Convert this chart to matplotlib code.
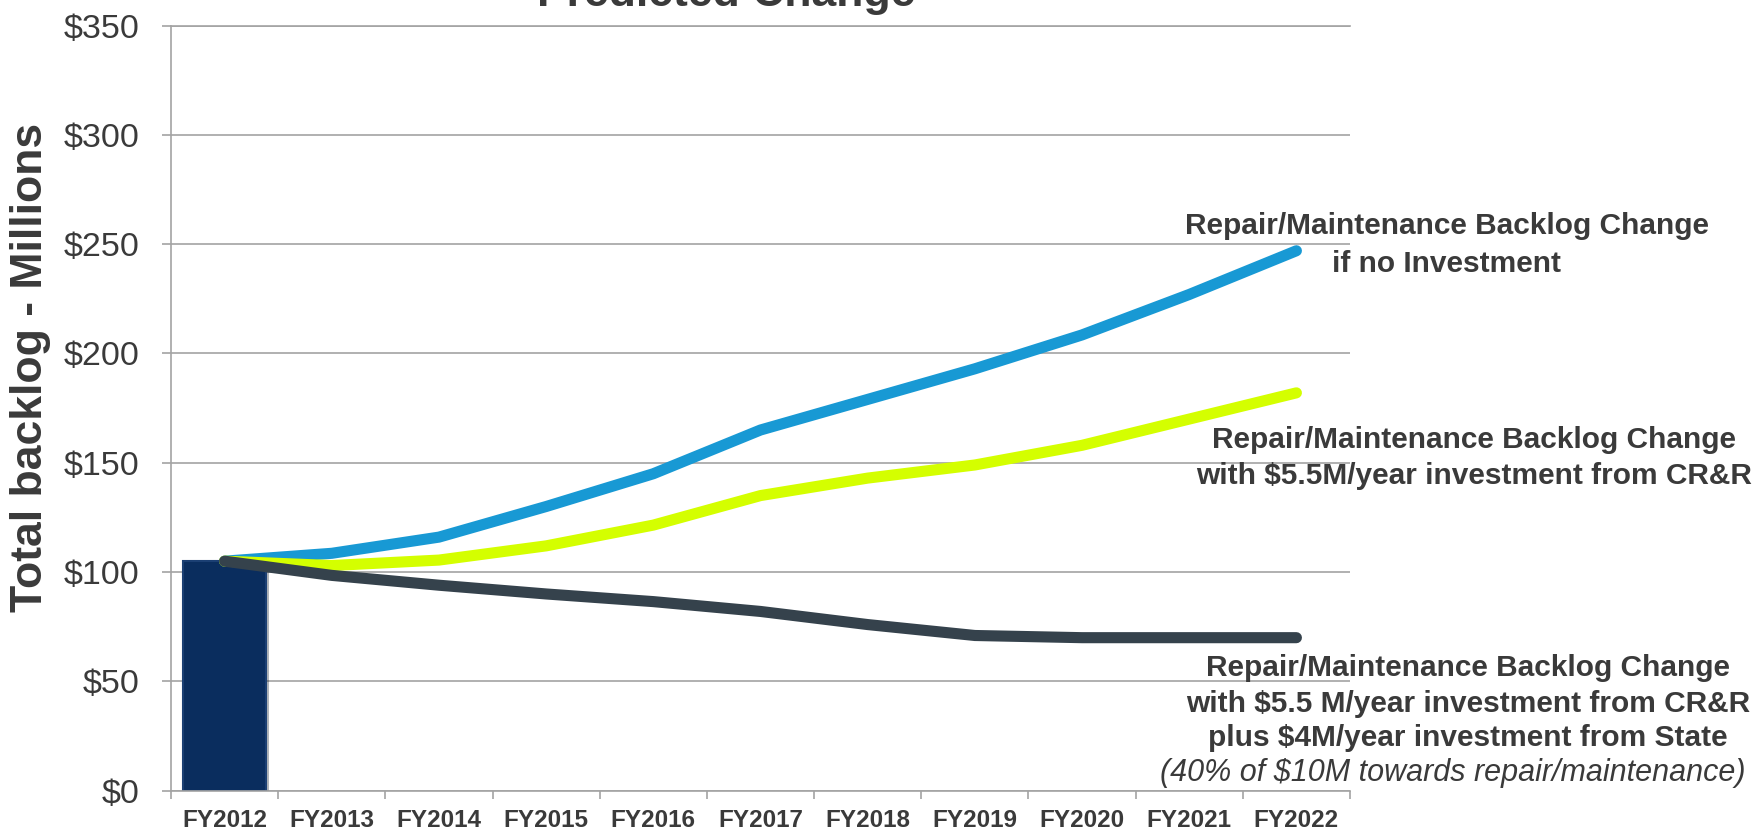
import numpy as np
import matplotlib
matplotlib.use('Agg')
import matplotlib.pyplot as plt
import matplotlib.patheffects as pe

plt.rcParams['font.family'] = ['Liberation Sans', 'DejaVu Sans']

years = ['FY2012', 'FY2013', 'FY2014', 'FY2015', 'FY2016', 'FY2017',
         'FY2018', 'FY2019', 'FY2020', 'FY2021', 'FY2022']
base_backlog = 105
no_investment = [105, 108.6, 116, 130, 145, 165, 179, 193, 208.5, 227, 247]
crr_only = [105, 103, 105.5, 112, 121.5, 135, 143, 149, 158, 170, 182]
crr_plus_state = [105, 98.5, 94, 90, 86.5, 82, 76, 71, 70, 70, 70]
y_ticks = [0, 50, 100, 150, 200, 250, 300, 350]

W, H = 1757, 831
fig = plt.figure(figsize=(W / 100, H / 100), dpi=100)
ax = fig.add_axes([171 / W, 1 - 790.7 / H, (1350 - 171) / W, (790.7 - 25.6) / H])

grid_c = '#a3a3a3'
text_c = '#3a3a3a'
x = np.arange(len(years))

# starting backlog bar
ax.bar(x[0], base_backlog, width=0.78, color='#0a2d5e', edgecolor='#1b3f73',
       linewidth=1.5, zorder=2,
       path_effects=[pe.SimplePatchShadow(offset=(2, -3), alpha=0.3), pe.Normal()])

line_kw = dict(lw=8, solid_capstyle='round', solid_joinstyle='round')
ax.plot(x, no_investment, color='#1899d4', zorder=3, **line_kw)
ax.plot(x, crr_only, color='#d4ff00', zorder=4, **line_kw)
ax.plot(x, crr_plus_state, color='#35424c', zorder=5, **line_kw)

ax.set_xlim(-0.5, len(years) - 0.5)
ax.set_ylim(0, 350)

ax.set_yticks(y_ticks)
ax.set_yticklabels([f'${v}' for v in y_ticks])
ax.yaxis.grid(True, color=grid_c, lw=1.2, zorder=0)
ax.set_axisbelow(True)
ax.tick_params(axis='y', direction='out', length=6.5, width=1.2, color=grid_c,
               pad=16, labelsize=24.5, labelcolor=text_c)

# category boundaries get the tick marks, centres get the labels
ax.set_xticks(np.arange(-0.5, len(years), 1))
ax.set_xticklabels([])
ax.set_xticks(x, minor=True)
ax.set_xticklabels(years, minor=True, fontweight='bold')
ax.tick_params(axis='x', which='major', direction='out', length=6, width=1.2, color=grid_c)
ax.tick_params(axis='x', which='minor', length=0, pad=13.5, labelsize=17.5, labelcolor=text_c)

ax.spines['right'].set_visible(False)
for side in ['left', 'bottom', 'top']:
    ax.spines[side].set_color(grid_c)
    ax.spines[side].set_linewidth(1.2)

fig.text(726 / W, 1 - 6 / H, 'Predicted Change', ha='center', va='baseline',
         fontsize=32, fontweight='bold', color=text_c)
fig.text(31 / W, 1 - 367 / H, 'Total backlog - Millions', rotation=90,
         ha='center', va='center', fontsize=32, fontweight='bold', color=text_c)


def note(cx, baselines, lines, italic_last=False):
    for i, (yb, s) in enumerate(zip(baselines, lines)):
        last = italic_last and i == len(lines) - 1
        fig.text((1453 if last else cx) / W, 1 - yb / H, s, ha='center', va='baseline',
                 fontsize=22 if last else 21.5,
                 fontweight='normal' if last else 'bold',
                 fontstyle='italic' if last else 'normal', color=text_c)


note(1447, [234, 272], ['Repair/Maintenance Backlog Change', 'if no Investment'])
note(1474, [448.5, 484.5], ['Repair/Maintenance Backlog Change',
                            'with $5.5M/year investment from CR&R'])
note(1468, [675.5, 711.5, 746.5, 781.5],
     ['Repair/Maintenance Backlog Change',
      'with $5.5 M/year investment from CR&R',
      'plus $4M/year investment from State',
      '(40% of $10M towards repair/maintenance)'], italic_last=True)

fig.savefig('out.png', dpi=100, facecolor='white')
